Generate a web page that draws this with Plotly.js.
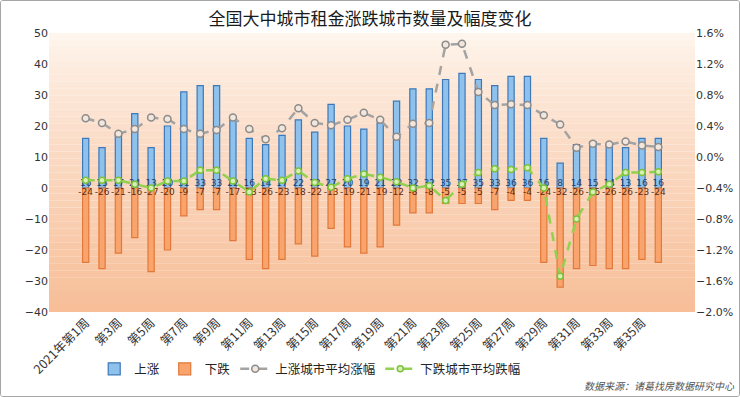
<!DOCTYPE html>
<html><head><meta charset="utf-8">
<script src="https://cdn.plot.ly/plotly-3.0.1.min.js"></script>
<style>
html,body{margin:0;padding:0;background:#fff;}
#chart{width:738px;height:395px;border:1px solid #a6a6a6;border-radius:3px;overflow:hidden;}
</style></head>
<body><div id="chart"></div>
<script>
const weeks = ["2021年第1周"];
for (let i = 2; i <= 36; i++) weeks.push("第" + i + "周");
const tickWeeks = weeks.filter((w, i) => i % 2 === 0);

const upCount = [16,13,17,24,13,20,31,33,33,22,16,14,17,22,18,27,20,19,21,28,32,32,35,37,35,33,36,36,16,8,14,15,14,13,16,16];
const downCount = [-24,-26,-21,-16,-27,-20,-9,-7,-7,-17,-23,-26,-23,-18,-22,-13,-19,-21,-19,-12,-8,-8,-5,-5,-5,-7,-4,-4,-24,-32,-26,-25,-26,-26,-23,-24];
const upAvg = [0.50,0.44,0.30,0.36,0.51,0.49,0.36,0.30,0.35,0.51,0.36,0.23,0.37,0.63,0.44,0.41,0.48,0.57,0.48,0.26,0.43,0.44,1.45,1.46,0.84,0.67,0.68,0.67,0.54,0.42,0.12,0.17,0.16,0.20,0.15,0.13];
const downAvg = [-0.30,-0.30,-0.30,-0.35,-0.40,-0.31,-0.31,-0.17,-0.17,-0.31,-0.45,-0.28,-0.30,-0.18,-0.33,-0.39,-0.28,-0.22,-0.26,-0.32,-0.40,-0.37,-0.56,-0.35,-0.20,-0.15,-0.16,-0.14,-0.40,-1.54,-0.80,-0.45,-0.35,-0.20,-0.20,-0.19];

const labelFont = "'DejaVu Sans', Verdana, sans-serif";
const cjk = "'Noto Sans CJK SC', sans-serif";

const traces = [
  {type:'bar', name:'上涨', x:weeks, y:upCount, width:0.38,
   marker:{color:'#8ec1ec', line:{color:'#3d78b8', width:1.2}}, hoverinfo:'skip'},
  {type:'bar', name:'下跌', x:weeks, y:downCount, width:0.38,
   marker:{color:'#f8a46c', line:{color:'#e2793a', width:1.2}}, hoverinfo:'skip'},
  {type:'scatter', mode:'lines+markers', name:'上涨城市平均涨幅', x:weeks, y:upAvg, yaxis:'y2',
   line:{color:'#a3a3a3', width:2.5, dash:'dash'},
   marker:{symbol:'circle', size:7, color:'#f3e6dc', line:{color:'#8c8c8c', width:1.5}}, hoverinfo:'skip'},
  {type:'scatter', mode:'lines+markers', name:'下跌城市平均跌幅', x:weeks, y:downAvg, yaxis:'y2',
   line:{color:'#92d050', width:2.5, dash:'dash'},
   marker:{symbol:'circle', size:6, color:'#d8f0b8', line:{color:'#7cc23a', width:1.5}}, hoverinfo:'skip'},
  {type:'scatter', mode:'text', x:weeks, y:upCount.map(()=>0), text:upCount.map(String),
   textposition:'top center', textfont:{size:9, color:'#1f3f6e', family:labelFont},
   showlegend:false, hoverinfo:'skip', cliponaxis:false},
  {type:'scatter', mode:'text', x:weeks, y:downCount.map(()=>0), text:downCount.map(String),
   textposition:'bottom center', textfont:{size:9, color:'#5a2d12', family:labelFont},
   showlegend:false, hoverinfo:'skip', cliponaxis:false}
];

// gradient background for plot area
const shapes = [];
const steps = 40;
const gTop = [254,245,237], gBot = [247,190,152];
for (let i = 0; i < steps; i++) {
  const t = Math.pow(i / (steps - 1), 0.85);
  const c = gTop.map((v, k) => Math.round(v + (gBot[k] - v) * t));
  shapes.push({type:'rect', xref:'paper', yref:'paper', x0:0, x1:1,
    y1:1 - i/steps, y0:1 - (i+1)/steps, fillcolor:`rgb(${c[0]},${c[1]},${c[2]})`,
    line:{width:0}, layer:'below'});
}

const layout = {
  width:738, height:395,
  margin:{l:48, r:44, t:32, b:81},
  paper_bgcolor:'#ffffff', plot_bgcolor:'rgba(0,0,0,0)',
  barmode:'relative',
  showlegend:true,
  title:{text:'全国大中城市租金涨跌城市数量及幅度变化', x:0.5, xanchor:'center', y:0.97, yanchor:'top',
         font:{family:cjk, size:17, color:'#1a1a1a'}},
  xaxis:{type:'category', tickvals:tickWeeks, ticktext:tickWeeks, tickangle:-45,
         tickfont:{family:cjk, size:12.5, color:'#333'}, showgrid:false, showline:false, ticks:'', zeroline:false},
  yaxis:{range:[-40,50], dtick:10, tickfont:{family:labelFont, size:11, color:'#333'},
         showgrid:false, zeroline:false, showline:false, ticks:''},
  yaxis2:{range:[-2.0,1.6], dtick:0.4, tick0:0, overlaying:'y', side:'right', ticksuffix:'%', tickformat:'.1f',
          tickfont:{family:labelFont, size:11, color:'#333'}, showgrid:false, zeroline:false, showline:false, ticks:''},
  legend:{orientation:'h', x:0.07, xanchor:'left', y:-0.205, yanchor:'middle',
          font:{family:cjk, size:12.5, color:'#222'}, bgcolor:'rgba(0,0,0,0)', traceorder:'normal'},
  shapes:shapes,
  annotations:[{text:'数据来源：诸葛找房数据研究中心', xref:'paper', yref:'paper', x:1.065, y:-0.262,
    xanchor:'right', yanchor:'middle', showarrow:false,
    font:{family:cjk, size:10, color:'#555', style:'italic'}}]
};

Plotly.newPlot('chart', traces, layout, {displayModeBar:false, staticPlot:true});
</script></body></html>
